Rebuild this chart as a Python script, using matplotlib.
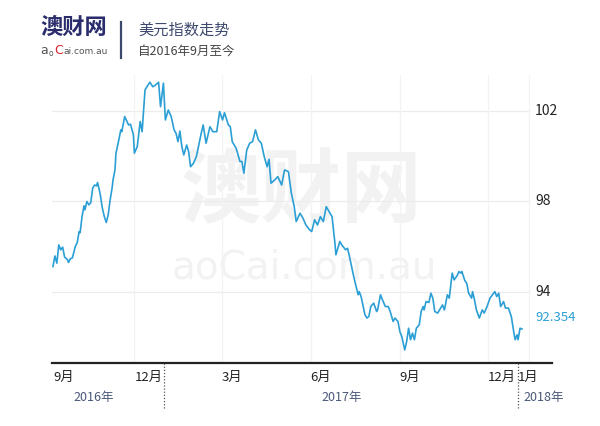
import pandas as pd
import matplotlib
matplotlib.use('Agg')
import matplotlib.pyplot as plt
import matplotlib.transforms as mtransforms

plt.rcParams['font.family'] = ['Noto Sans CJK SC', 'DejaVu Sans']

# 美元指数
dates = [
    '2016-09-08', '2016-09-10', '2016-09-12', '2016-09-14', '2016-09-16', '2016-09-18', '2016-09-20',
    '2016-09-23', '2016-09-24', '2016-09-26', '2016-09-28', '2016-10-01', '2016-10-03', '2016-10-05',
    '2016-10-06', '2016-10-08', '2016-10-10', '2016-10-11', '2016-10-13', '2016-10-15', '2016-10-17',
    '2016-10-19', '2016-10-21', '2016-10-23', '2016-10-24', '2016-10-26', '2016-10-27', '2016-10-29',
    '2016-10-31', '2016-11-02', '2016-11-04', '2016-11-06', '2016-11-08', '2016-11-09', '2016-11-11',
    '2016-11-12', '2016-11-15', '2016-11-17', '2016-11-18', '2016-11-21', '2016-11-25', '2016-11-27',
    '2016-11-30', '2016-12-01', '2016-12-04', '2016-12-07', '2016-12-09', '2016-12-12', '2016-12-14',
    '2016-12-17', '2016-12-20', '2016-12-23', '2016-12-26', '2016-12-28', '2016-12-31',
    '2017-01-02', '2017-01-05', '2017-01-08', '2017-01-11', '2017-01-13', '2017-01-15', '2017-01-17',
    '2017-01-19', '2017-01-21', '2017-01-24', '2017-01-26', '2017-01-28', '2017-01-31', '2017-02-03',
    '2017-02-08', '2017-02-10', '2017-02-13', '2017-02-17', '2017-02-20', '2017-02-24', '2017-02-27',
    '2017-03-02', '2017-03-04', '2017-03-08', '2017-03-10', '2017-03-12', '2017-03-16', '2017-03-20',
    '2017-03-22', '2017-03-24', '2017-03-27', '2017-03-30', '2017-04-02', '2017-04-05', '2017-04-08',
    '2017-04-11', '2017-04-14', '2017-04-17', '2017-04-19', '2017-04-21', '2017-04-25', '2017-04-28',
    '2017-05-02', '2017-05-05', '2017-05-09', '2017-05-12', '2017-05-15', '2017-05-17', '2017-05-21',
    '2017-05-24', '2017-05-27', '2017-05-31', '2017-06-02', '2017-06-05', '2017-06-08', '2017-06-11',
    '2017-06-14', '2017-06-17', '2017-06-20', '2017-06-23', '2017-06-26', '2017-06-27', '2017-07-01',
    '2017-07-03', '2017-07-07', '2017-07-09', '2017-07-11', '2017-07-15', '2017-07-17', '2017-07-20',
    '2017-07-21', '2017-07-23', '2017-07-27', '2017-07-29', '2017-07-31', '2017-08-02', '2017-08-05',
    '2017-08-08', '2017-08-09', '2017-08-12', '2017-08-14', '2017-08-17', '2017-08-20', '2017-08-22',
    '2017-08-25', '2017-08-27', '2017-08-30', '2017-09-01', '2017-09-03', '2017-09-06', '2017-09-08',
    '2017-09-10', '2017-09-12', '2017-09-14', '2017-09-16', '2017-09-18', '2017-09-21', '2017-09-23',
    '2017-09-25', '2017-09-26', '2017-09-28', '2017-10-01', '2017-10-03', '2017-10-05', '2017-10-07',
    '2017-10-10', '2017-10-13', '2017-10-15', '2017-10-17', '2017-10-20', '2017-10-22', '2017-10-25',
    '2017-10-27', '2017-10-30', '2017-11-01', '2017-11-03', '2017-11-04', '2017-11-07', '2017-11-09',
    '2017-11-11', '2017-11-14', '2017-11-15', '2017-11-17', '2017-11-19', '2017-11-22', '2017-11-25',
    '2017-11-27', '2017-11-30', '2017-12-03', '2017-12-08', '2017-12-10', '2017-12-12', '2017-12-14',
    '2017-12-17', '2017-12-19', '2017-12-22', '2017-12-25', '2017-12-28', '2017-12-29', '2017-12-31',
    '2018-01-01', '2018-01-03', '2018-01-05',
]
values = [
    95.12, 95.59, 95.27, 96.08, 95.86, 95.98, 95.54,
    95.42, 95.30, 95.47, 95.50, 96.00, 96.18, 96.67,
    96.62, 97.33, 97.81, 97.63, 98.00, 97.85, 97.95,
    98.59, 98.73, 98.69, 98.84, 98.48, 98.25, 97.70,
    97.33, 97.07, 97.41, 98.07, 98.59, 98.96, 99.40,
    100.14, 100.73, 101.17, 101.09, 101.76, 101.39, 101.42,
    100.95, 100.14, 100.43, 101.54, 101.09, 102.94, 103.08,
    103.28, 103.08, 103.16, 103.28, 102.20, 103.24,
    101.61, 102.05, 101.76, 101.17, 101.02, 100.65, 101.12,
    100.43, 100.06, 100.50, 100.21, 99.54, 99.69, 99.99,
    101.02, 101.39, 100.58, 101.31, 101.09, 101.09, 101.98,
    101.61, 101.93, 101.39, 101.31, 100.65, 100.36, 99.77,
    99.77, 99.25, 100.28, 100.58, 100.65, 101.17, 100.73,
    100.58, 99.99, 99.54, 99.87, 98.81, 98.96, 99.10,
    98.73, 99.40, 99.32, 98.37, 97.77, 97.11, 97.48,
    97.26, 96.96, 96.74, 96.67, 97.19, 96.96, 97.33,
    97.11, 97.77, 97.55, 97.33, 96.15, 95.64, 96.23,
    96.08, 95.86, 95.93, 95.56, 94.75, 94.38, 93.87,
    94.01, 93.79, 92.98, 92.84, 92.91, 93.35, 93.50,
    93.13, 93.20, 93.87, 93.65, 93.35, 93.35, 93.13,
    92.69, 92.84, 92.69, 92.24, 92.02, 91.43, 91.80,
    92.39, 91.88, 92.17, 91.88, 92.39, 92.54, 93.13,
    93.35, 93.20, 93.57, 93.53, 93.94, 93.72, 93.13,
    93.06, 93.28, 93.42, 93.20, 93.87, 93.72, 94.83,
    94.53, 94.71, 94.90, 94.83, 94.90, 94.50, 94.38,
    93.94, 93.72, 94.01, 93.65, 93.20, 92.84, 93.20,
    93.06, 93.35, 93.72, 94.01, 93.79, 93.94, 93.35,
    93.57, 93.28, 93.28, 92.91, 92.10, 91.88, 92.10,
    91.88, 92.39, 92.354,
]

y_ticks = [94, 98, 102]
month_ticks = ['2016-09-08', '2016-12-01', '2017-03-01', '2017-06-01', '2017-09-01', '2017-12-01', '2018-01-01']
month_labels = ['9月', '12月', '3月', '6月', '9月', '12月', '1月']
year_breaks = ['2017-01-01', '2018-01-01']
year_pos = ['2016-10-20', '2017-07-03', '2018-01-07']
year_labels = ['2016年', '2017年', '2018年']

x = pd.to_datetime(dates)

fig = plt.figure(figsize=(6, 4.26), dpi=100)
fig.patch.set_facecolor('white')
ax = fig.add_axes([52 / 600, 63 / 426, 500 / 600, 288 / 426])

line_color = '#2b9fd5'
grid_color = '#ececec'
grid_end = 0.954

# 水印
ax.text(0.50, 0.59, '澳财网', transform=ax.transAxes, fontsize=58, fontweight='bold',
        color='#f2f2f2', ha='center', va='center', zorder=0)
ax.text(0.505, 0.33, 'aoCai.com.au', transform=ax.transAxes, fontsize=28, color='#f2f2f2',
        ha='center', va='center', family='DejaVu Sans', zorder=0)

ax.plot(x, values, color=line_color, linewidth=1.2, zorder=3)

ax.set_xlim(pd.Timestamp('2016-09-07'), pd.Timestamp('2018-02-05'))
ax.set_ylim(90.85, 103.6)

# 网格
for yv in y_ticks:
    ax.axhline(yv, xmin=0, xmax=grid_end, color=grid_color, linewidth=0.9, zorder=1)
for d in month_ticks[1:-1]:
    ax.axvline(pd.Timestamp(d), color='#f3f3f3', linewidth=0.9, zorder=1)
x0, x1 = ax.get_xlim()
ax.axvline(x0 + (x1 - x0) * grid_end, color='#f3f3f3', linewidth=0.9, zorder=1)

for s in ['top', 'right', 'left']:
    ax.spines[s].set_visible(False)
ax.spines['bottom'].set_color('#222222')
ax.spines['bottom'].set_linewidth(1.6)
ax.set_xticks([])
ax.set_yticks([])

trans = mtransforms.blended_transform_factory(ax.transData, ax.transAxes)
trans_y = mtransforms.blended_transform_factory(ax.transAxes, ax.transData)

for d, lab in zip(month_ticks, month_labels):
    ax.text(pd.Timestamp(d), -0.05, lab, transform=trans, ha='left', va='center',
            fontsize=9.5, color='#222222')
for d, lab in zip(year_pos, year_labels):
    ha = 'left' if lab == '2018年' else 'center'
    ax.text(pd.Timestamp(d), -0.12, lab, transform=trans, ha=ha, va='center',
            fontsize=9, color='#4a5878')
for d in year_breaks:
    ax.plot([pd.Timestamp(d)] * 2, [0, -0.16], transform=trans, color='#555555',
            linewidth=0.9, linestyle=(0, (1, 1.5)), clip_on=False)

for yv in y_ticks:
    ax.text(0.966, yv, str(yv), transform=trans_y, ha='left', va='center',
            fontsize=10, color='#222222')
ax.annotate(f'{values[-1]:.3f}', xy=(0.966, values[-1]), xycoords=trans_y,
            xytext=(0, 8.5), textcoords='offset points', ha='left', va='center',
            fontsize=9.5, color=line_color)

# 标题区
fig.text(40 / 600, 1 - 27 / 426, '澳财网', fontsize=16, fontweight='bold',
         color='#2a2c6c', ha='left', va='center')
fig.text(40 / 600, 1 - 51 / 426, 'a', fontsize=9, color='#555555', ha='left', va='center',
         family='DejaVu Sans')
fig.text(48.5 / 600, 1 - 53 / 426, 'o', fontsize=5.5, color='#555555', ha='left', va='center',
         family='DejaVu Sans')
fig.text(54 / 600, 1 - 51 / 426, 'C', fontsize=9, color='#d8202a', ha='left', va='center',
         family='DejaVu Sans')
fig.text(63 / 600, 1 - 51 / 426, 'ai.com.au', fontsize=6.5, color='#555555', ha='left', va='center',
         family='DejaVu Sans')
fig.add_artist(plt.Line2D([121 / 600, 121 / 600], [1 - 22 / 426, 1 - 58 / 426],
                          color='#3d4a6e', linewidth=1.6))
fig.text(138 / 600, 1 - 30 / 426, '美元指数走势', fontsize=11, color='#3d4a6e',
         ha='left', va='center')
fig.text(138 / 600, 1 - 52 / 426, '自2016年9月至今', fontsize=9, color='#444444',
         ha='left', va='center')

fig.savefig('out.png', dpi=100, facecolor='white')
